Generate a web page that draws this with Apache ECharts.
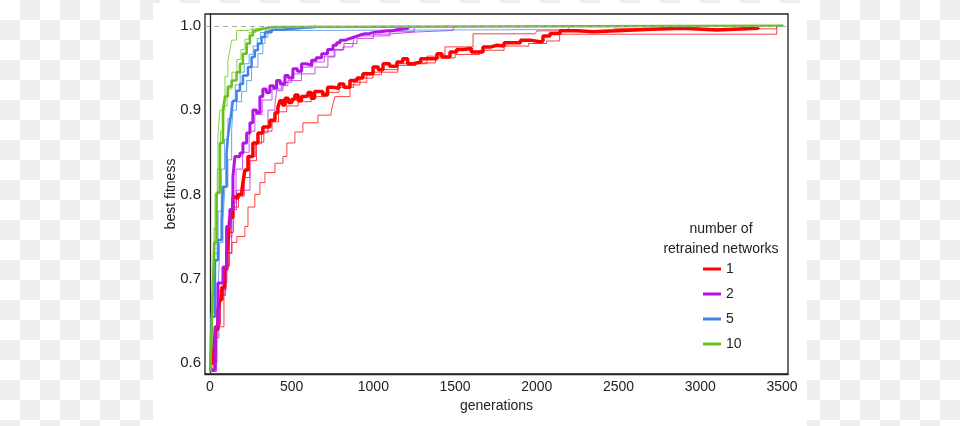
<!DOCTYPE html>
<html><head><meta charset="utf-8">
<script src="https://cdn.jsdelivr.net/npm/echarts@6/dist/echarts.min.js"></script>
<style>
html,body{margin:0;padding:0;width:960px;height:426px;overflow:hidden;}
body{background:repeating-conic-gradient(#eeeeee 0 25%, #ffffff 0 50%) 0 0/40px 40px;}
#panel{position:absolute;left:153px;top:3px;width:654px;height:423px;background:#fff;}
#chart{position:absolute;left:0;top:0;width:960px;height:426px;}
</style></head>
<body><div id="panel"></div><div id="chart"></div>
<script>
// tick labels
const generationTicks = [0, 500, 1000, 1500, 2000, 2500, 3000, 3500];
const fitnessTicks = [0.6, 0.7, 0.8, 0.9, 1.0];
const legendNames = ['1', '2', '5', '10'];

// 1 retrained network
const red_mean = [[12,0.598],[24,0.616],[35,0.640],[49,0.663],[60,0.675],[73,0.690],[90,0.712],[104,0.731],[115,0.755],[122,0.773],[141,0.797],[155,0.795],[171,0.800],[196,0.805],[205,0.818],[214,0.829],[233,0.845],[263,0.861],[294,0.873],[324,0.880],[367,0.888],[398,0.897],[416,0.903],[428,0.911],[445,0.906],[460,0.914],[480,0.909],[502,0.913],[520,0.918],[540,0.911],[560,0.916],[581,0.917],[600,0.921],[620,0.914],[640,0.922],[661,0.922],[690,0.918],[720,0.927],[753,0.926],[790,0.931],[820,0.927],[857,0.935],[900,0.938],[936,0.943],[998,0.951],[1030,0.948],[1059,0.955],[1100,0.952],[1144,0.957],[1180,0.961],[1210,0.955],[1242,0.957],[1290,0.961],[1346,0.961],[1389,0.967],[1420,0.963],[1469,0.969],[1510,0.972],[1548,0.973],[1600,0.969],[1671,0.975],[1720,0.977],[1756,0.976],[1800,0.980],[1854,0.980],[1900,0.983],[1958,0.981],[2020,0.982],[2038,0.988],[2081,0.991],[2142,0.994],[2250,0.993],[2344,0.994],[2491,0.996],[2700,0.997],[2900,0.995],[3100,0.997],[3354,0.996]];
const red_runA = [[18,0.600],[43,0.643],[86,0.695],[104,0.731],[135,0.743],[165,0.750],[214,0.762],[233,0.785],[275,0.800],[306,0.814],[337,0.826],[398,0.837],[447,0.845],[471,0.861],[520,0.874],[569,0.885],[661,0.894],[741,0.897],[753,0.907],[765,0.916],[857,0.930],[918,0.938],[998,0.945],[1150,0.955],[1328,0.964],[1438,0.975],[1610,0.9905],[1989,0.9905],[2001,0.994],[2460,0.994],[2472,0.9964],[3464,0.9964],[3470,1.0]];
const red_runB = [[5,0.59],[20,0.61],[40,0.645],[65,0.68],[95,0.715],[120,0.755],[145,0.785],[175,0.798],[210,0.82],[245,0.84],[285,0.862],[330,0.875],[380,0.886],[420,0.898],[470,0.905],[540,0.91],[620,0.916],[700,0.921],[790,0.927],[880,0.933],[960,0.942],[1050,0.948],[1150,0.953],[1260,0.956],[1380,0.962],[1500,0.966],[1650,0.971],[1800,0.976],[1950,0.979],[2060,0.982],[2140,0.99],[3467,0.99],[3470,1.0]];

// 2 retrained networks
const purple_mean = [[10,0.592],[31,0.643],[49,0.695],[80,0.714],[102,0.762],[122,0.782],[141,0.821],[153,0.845],[184,0.849],[202,0.861],[225,0.873],[245,0.885],[263,0.900],[285,0.897],[306,0.916],[324,0.925],[345,0.921],[367,0.929],[390,0.926],[408,0.935],[430,0.931],[459,0.941],[480,0.938],[508,0.949],[535,0.946],[561,0.955],[590,0.953],[622,0.959],[650,0.962],[684,0.967],[720,0.972],[753,0.977],[775,0.980],[796,0.983],[830,0.985],[857,0.987],[890,0.989],[918,0.9905],[950,0.991],[979,0.9925],[1010,0.993],[1040,0.9937],[1075,0.994],[1112,0.9953],[1143,0.997],[1212,0.997],[1215,1.0]];
const purple_runA = [[10,0.59],[41,0.648],[61,0.687],[100,0.73],[133,0.782],[163,0.805],[245,0.845],[280,0.86],[316,0.873],[355,0.900],[398,0.907],[408,0.923],[447,0.929],[477,0.935],[560,0.943],[643,0.951],[722,0.963],[765,0.971],[814,0.975],[875,0.979],[887,0.988],[1102,0.9905],[1120,0.9925],[1242,0.9945],[1487,0.9964],[1493,1.0]];
const purple_runB = [[10,0.59],[30,0.63],[55,0.68],[85,0.71],[110,0.75],[135,0.79],[160,0.83],[200,0.85],[240,0.875],[275,0.895],[320,0.912],[380,0.925],[440,0.933],[500,0.943],[560,0.951],[630,0.957],[700,0.964],[760,0.972],[820,0.979],[900,0.985],[1000,0.99],[1100,0.993],[1250,0.9965],[1260,1.0]];

// 5 retrained networks
const blue_mean = [[3,0.59],[10,0.655],[31,0.722],[49,0.746],[72,0.770],[80,0.809],[102,0.849],[110,0.868],[122,0.885],[133,0.900],[141,0.911],[163,0.923],[184,0.931],[202,0.941],[233,0.951],[255,0.963],[275,0.971],[294,0.979],[316,0.9866],[337,0.9925],[378,0.9953],[439,0.9964],[500,0.9976],[581,0.9985],[643,0.9985],[650,1.0]];
const blue_runA = [[3,0.59],[15,0.63],[49,0.679],[61,0.743],[80,0.770],[92,0.809],[110,0.841],[133,0.877],[141,0.900],[163,0.910],[194,0.922],[225,0.935],[255,0.951],[294,0.967],[324,0.979],[337,0.9866],[355,0.9944],[459,0.9955],[2191,0.9955],[2195,1.0]];
const blue_runB = [[3,0.59],[8,0.66],[25,0.73],[50,0.78],[70,0.83],[90,0.865],[110,0.89],[130,0.91],[155,0.93],[185,0.945],[210,0.955],[240,0.966],[265,0.976],[290,0.985],[310,0.992],[340,0.995],[420,0.997],[560,0.998],[620,1.0]];

// 10 retrained networks
const green_mean = [[3,0.59],[14,0.663],[26,0.743],[41,0.802],[61,0.861],[80,0.900],[92,0.916],[110,0.928],[133,0.935],[163,0.945],[184,0.955],[202,0.967],[225,0.979],[245,0.9885],[263,0.9944],[286,0.9964],[324,0.9985],[378,1.0],[3509,1.0]];
const green_runA = [[3,0.59],[10,0.65],[18,0.70],[31,0.80],[49,0.87],[61,0.90],[92,0.94],[110,0.958],[122,0.971],[133,0.983],[163,0.9944],[233,0.9964],[263,1.0]];
const green_runB = [[3,0.59],[12,0.68],[25,0.76],[45,0.83],[65,0.875],[85,0.905],[105,0.925],[135,0.945],[165,0.96],[190,0.972],[215,0.984],[240,0.992],[280,0.997],[320,1.0]];

const colors = {red:'#ff0000', purple:'#b514e6', blue:'#3d86e6', green:'#66c21a'};
const FONT = 'Liberation Sans, Arial, sans-serif';

function thin(name, data, color){
  return {name:name, type:'line', data:data, step:'end', symbol:'none', silent:true,
    lineStyle:{color:color, width:1, opacity:0.75}, z:2};
}
function thick(name, data, color, w){
  return {name:name, type:'line', data:data, step:'end', symbol:'none', silent:true,
    itemStyle:{color:color}, lineStyle:{color:color, width:w}, z:3};
}

const chart = echarts.init(document.getElementById('chart'), null, {renderer:'canvas'});
chart.setOption({
  backgroundColor:'transparent',
  animation:false,
  textStyle:{fontFamily:FONT},
  grid:{left:205, top:14, width:583, height:360, show:true, borderColor:'#222', borderWidth:1.3, backgroundColor:'#ffffff'},
  title:{text:'number of\nretrained networks', left:716, top:214, textAlign:'center',
    textStyle:{fontFamily:FONT, fontSize:14, fontWeight:'normal', color:'#222', lineHeight:20}},
  legend:{data:legendNames, orient:'vertical', left:698, top:257, itemWidth:18, itemHeight:3, itemGap:11, itemTextGap:7,
    icon:'rect', textStyle:{fontFamily:FONT, fontSize:14, color:'#222', lineHeight:14}},
  xAxis:{type:'value', min:-30, max:3537, name:'generations', nameLocation:'middle', nameGap:25, nameMoveOverlap:false,
    nameTextStyle:{fontFamily:FONT, fontSize:14, color:'#222'},
    axisLine:{show:true, lineStyle:{color:'#222', width:1.3}}, axisTick:{show:false}, splitLine:{show:false},
    axisLabel:{customValues:generationTicks, formatter:v=>String(v), fontFamily:FONT, fontSize:14, color:'#222', margin:6}},
  yAxis:{type:'value', min:0.587, max:1.014, name:'best fitness', nameLocation:'middle', nameGap:27, nameMoveOverlap:false,
    nameTextStyle:{fontFamily:FONT, fontSize:14, color:'#222'},
    axisLine:{show:true, lineStyle:{color:'#222', width:1.3}}, axisTick:{show:false}, splitLine:{show:false},
    axisLabel:{customValues:fitnessTicks, formatter:v=>v.toFixed(1), fontFamily:FONT, fontSize:15, color:'#222', margin:4}},
  series:[
    {name:'ref', type:'line', data:[], markLine:{silent:true, symbol:'none', label:{show:false},
      lineStyle:{color:'#aaaaaa', type:[5,4], width:1.2}, data:[{yAxis:1.0}]}, z:1},
    thin('1a', red_runA, colors.red), thin('1b', red_runB, colors.red),
    thick('1', red_mean, colors.red, 3.5),
    thin('2a', purple_runA, colors.purple), thin('2b', purple_runB, colors.purple),
    thick('2', purple_mean, colors.purple, 3),
    thin('5a', blue_runA, colors.blue), thin('5b', blue_runB, colors.blue),
    thick('5', blue_mean, colors.blue, 2.5),
    thin('10a', green_runA, colors.green), thin('10b', green_runB, colors.green),
    thick('10', green_mean, colors.green, 2.5)
  ]
});
</script></body></html>
